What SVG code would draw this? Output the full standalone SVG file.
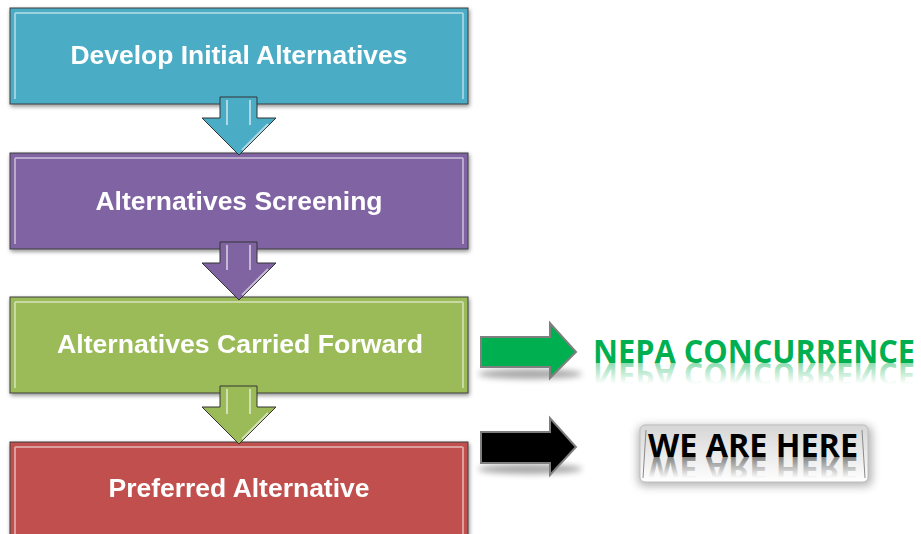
<svg xmlns="http://www.w3.org/2000/svg" width="921" height="534" viewBox="0 0 921 534">
  <defs>
    <filter id="shadow" x="-10%" y="-10%" width="120%" height="130%">
      <feGaussianBlur in="SourceAlpha" stdDeviation="2"/>
      <feOffset dx="1" dy="2"/>
      <feComponentTransfer><feFuncA type="linear" slope="0.45"/></feComponentTransfer>
      <feMerge><feMergeNode/><feMergeNode in="SourceGraphic"/></feMerge>
    </filter>
    <filter id="blur6" x="-30%" y="-80%" width="160%" height="260%">
      <feGaussianBlur stdDeviation="5"/>
    </filter>
    <filter id="blur3" x="-30%" y="-80%" width="160%" height="260%">
      <feGaussianBlur stdDeviation="3"/>
    </filter>
    <linearGradient id="reflGreen" gradientUnits="userSpaceOnUse" x1="0" y1="-363" x2="0" y2="-384">
      <stop offset="0" stop-color="#00B050" stop-opacity="0.45"/>
      <stop offset="1" stop-color="#00B050" stop-opacity="0"/>
    </linearGradient>
    <linearGradient id="reflBlack" gradientUnits="userSpaceOnUse" x1="0" y1="-457" x2="0" y2="-478">
      <stop offset="0" stop-color="#000000" stop-opacity="0.45"/>
      <stop offset="1" stop-color="#000000" stop-opacity="0"/>
    </linearGradient>
    <linearGradient id="btn" x1="0" y1="0" x2="0" y2="1">
      <stop offset="0" stop-color="#d6d6d6"/>
      <stop offset="0.55" stop-color="#ececec"/>
      <stop offset="1" stop-color="#ffffff"/>
    </linearGradient>
  </defs>
  <style>
    .box { stroke: #3c3c3c; stroke-width: 1; }
    .bevel { fill: none; stroke: #ffffff; stroke-opacity: 0.45; stroke-width: 2; }
    .label { font-family: "Liberation Sans", Arial, sans-serif; font-weight: bold; font-size: 25px; fill: #ffffff; text-anchor: middle; }
    .down { stroke: #333333; stroke-width: 1; }
    .hl { stroke: #ffffff; stroke-opacity: 0.55; stroke-width: 2; fill: none; }
    .big { font-family: "Open Sans", "Liberation Sans", sans-serif; font-weight: bold; font-size: 32px; }
  </style>

  <rect width="921" height="534" fill="#ffffff"/>

  <g id="node-develop" filter="url(#shadow)">
    <rect class="box" x="10" y="8" width="458" height="96" fill="#4BACC6"/>
    <path class="bevel" d="M15,13 V99 M463,13 V99 M15,13 H463"/>
    <text class="label" x="239" y="64" textLength="337" lengthAdjust="spacingAndGlyphs">Develop Initial Alternatives</text>
  </g>

  <g id="node-screening" filter="url(#shadow)">
    <rect class="box" x="10" y="153" width="458" height="96" fill="#8064A2"/>
    <path class="bevel" d="M15,158 V244 M463,158 V244 M15,158 H463"/>
    <text class="label" x="239" y="210" textLength="287" lengthAdjust="spacingAndGlyphs">Alternatives Screening</text>
  </g>

  <g id="node-carried" filter="url(#shadow)">
    <rect class="box" x="10" y="297" width="458" height="96" fill="#9BBB59"/>
    <path class="bevel" d="M15,302 V388 M463,302 V388 M15,302 H463"/>
    <text class="label" x="240" y="353" textLength="366" lengthAdjust="spacingAndGlyphs">Alternatives Carried Forward</text>
  </g>

  <g id="node-preferred" filter="url(#shadow)">
    <rect class="box" x="10" y="442" width="458" height="100" fill="#C0504D"/>
    <path class="bevel" d="M15,447 V540 M463,447 V540 M15,447 H463"/>
    <text class="label" x="239" y="497" textLength="261" lengthAdjust="spacingAndGlyphs">Preferred Alternative</text>
  </g>

  <g id="node-nepa">
    <text class="big" x="754" y="363" text-anchor="middle" fill="#00B050" textLength="322" lengthAdjust="spacingAndGlyphs">NEPA CONCURRENCE</text>
    <text class="big" x="754" y="-363" text-anchor="middle" fill="url(#reflGreen)" transform="scale(1,-1)" textLength="322" lengthAdjust="spacingAndGlyphs">NEPA CONCURRENCE</text>
  </g>

  <g id="node-here">
    <rect x="638" y="426" width="234" height="60" rx="6" fill="#000" opacity="0.3" filter="url(#blur6)"/>
    <rect x="640" y="425" width="228" height="57" rx="5" fill="url(#btn)" stroke="#bdbdbd" stroke-width="1"/>
    <path d="M643,478 L646,430 M865,478 L862,430" stroke="#8a8a8a" stroke-width="1" fill="none"/>
    <text class="big" x="753" y="457" text-anchor="middle" fill="#000000" textLength="210" lengthAdjust="spacingAndGlyphs">WE ARE HERE</text>
    <text class="big" x="753" y="-457" text-anchor="middle" fill="url(#reflBlack)" transform="scale(1,-1)" textLength="210" lengthAdjust="spacingAndGlyphs">WE ARE HERE</text>
  </g>

  <g id="connectors">
    <g id="down-1">
      <path class="down" d="M220,97 H257 V118 H276 L239,155 L202,118 H220 Z" fill="#4BACC6"/>
      <path class="hl" d="M227,100 V125 M250,100 V125 M268,124 L242,150"/>
    </g>
    <g id="down-2">
      <path class="down" d="M220,242 H257 V263 H276 L239,300 L202,263 H220 Z" fill="#8064A2"/>
      <path class="hl" d="M227,245 V270 M250,245 V270 M268,269 L242,295"/>
    </g>
    <g id="down-3">
      <path class="down" d="M220,386 H257 V407 H276 L239,444 L202,407 H220 Z" fill="#9BBB59"/>
      <path class="hl" d="M227,389 V414 M250,389 V414 M268,413 L242,439"/>
    </g>
    <g id="right-nepa">
      <ellipse cx="530" cy="374" rx="52" ry="5" fill="#000" opacity="0.35" filter="url(#blur3)"/>
      <path d="M481,337 H550 V323 L576,352 L550,378 V367 H481 Z" fill="#00B050" stroke="#7f7f7f" stroke-width="2"/>
    </g>
    <g id="right-here">
      <ellipse cx="530" cy="469" rx="52" ry="5" fill="#000" opacity="0.35" filter="url(#blur3)"/>
      <path d="M481,432 H550 V418 L576,447 L550,475 V463 H481 Z" fill="#000000" stroke="#7f7f7f" stroke-width="2"/>
    </g>
  </g>
</svg>
